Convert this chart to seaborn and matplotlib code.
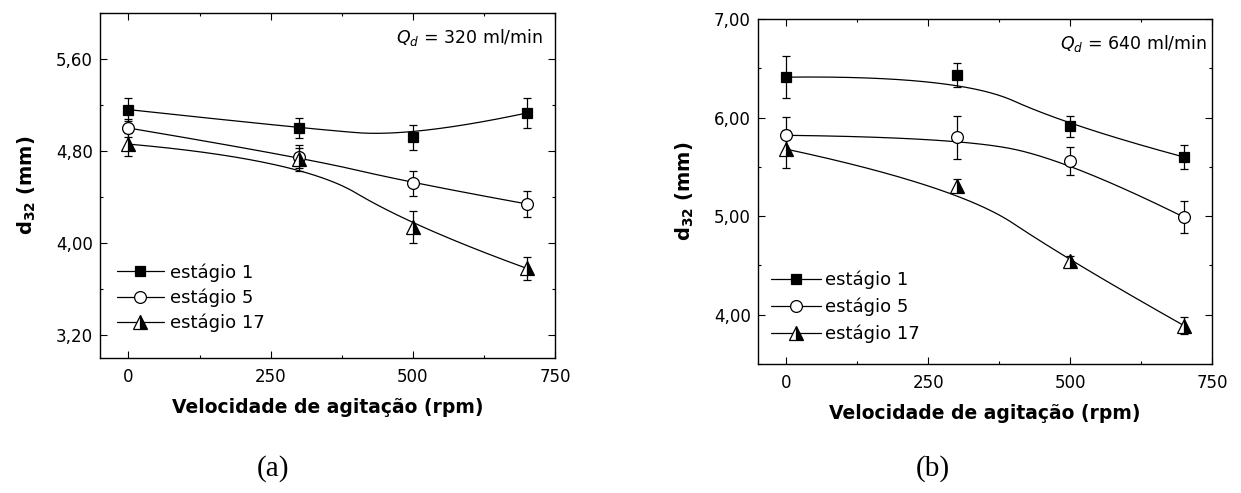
import numpy as np
import matplotlib
matplotlib.use("Agg")
import matplotlib.pyplot as plt
import seaborn as sns
from matplotlib.ticker import MultipleLocator, FuncFormatter
from matplotlib.lines import Line2D

# ---------------- data ----------------
velocidade = [0, 300, 500, 700]
series_labels = ["estágio 1", "estágio 5", "estágio 17"]

# (a) Qd = 320 ml/min
a_e1 = [5.16, 5.00, 4.92, 5.13]
a_e1_err = [0.10, 0.09, 0.11, 0.13]
a_e5 = [5.00, 4.75, 4.52, 4.34]
a_e5_err = [0.08, 0.10, 0.11, 0.11]
a_e17 = [4.86, 4.73, 4.14, 3.78]
a_e17_err = [0.10, 0.10, 0.14, 0.10]

# (b) Qd = 640 ml/min
b_e1 = [6.41, 6.43, 5.91, 5.60]
b_e1_err = [0.21, 0.12, 0.11, 0.12]
b_e5 = [5.82, 5.80, 5.56, 4.99]
b_e5_err = [0.19, 0.22, 0.14, 0.16]
b_e17 = [5.68, 5.31, 4.54, 3.89]
b_e17_err = [0.19, 0.07, 0.06, 0.09]

xticks = [0, 250, 500, 750]
a_yticks = [3.20, 4.00, 4.80, 5.60]
b_yticks = [4.00, 5.00, 6.00, 7.00]
panel_tags = ["(a)", "(b)"]
qd_texts = [r"$Q_d$ = 320 ml/min", r"$Q_d$ = 640 ml/min"]

# ---------------- style ----------------
sns.set_theme(style="ticks")
plt.rcParams["font.family"] = ["DejaVu Sans"]
plt.rcParams["mathtext.fontset"] = "dejavusans"
plt.rcParams["text.color"] = "black"
plt.rcParams["axes.labelcolor"] = "black"
plt.rcParams["xtick.color"] = "black"
plt.rcParams["ytick.color"] = "black"
plt.rcParams["axes.edgecolor"] = "black"


def bspline_curve(xs, ys, degree=2, n=300):
    """Clamped B-spline using the data points as control points (connection style)."""
    P = np.column_stack([xs, ys]).astype(float)
    m = len(P)
    k = min(degree, m - 1)
    inner = np.linspace(0, 1, m - k + 1)[1:-1]
    knots = np.concatenate([np.zeros(k + 1), inner, np.ones(k + 1)])
    u = np.linspace(0, 1, n)
    u[-1] -= 1e-9
    N = np.zeros((n, len(knots) - 1))
    for i in range(len(knots) - 1):
        N[:, i] = ((u >= knots[i]) & (u < knots[i + 1])).astype(float)
    for d in range(1, k + 1):
        Nn = np.zeros((n, len(knots) - 1 - d))
        for i in range(len(knots) - 1 - d):
            den1 = knots[i + d] - knots[i]
            den2 = knots[i + d + 1] - knots[i + 1]
            left = (u - knots[i]) / den1 * N[:, i] if den1 > 0 else 0.0
            right = (knots[i + d + 1] - u) / den2 * N[:, i + 1] if den2 > 0 else 0.0
            Nn[:, i] = left + right
        N = Nn
    C = N @ P
    return C[:, 0], C[:, 1]


marker_styles = [
    dict(marker="s", markersize=7.5, markerfacecolor="black", markeredgecolor="black"),
    dict(marker="o", markersize=8.5, markerfacecolor="white", markeredgecolor="black"),
    dict(marker="^", markersize=9.5, fillstyle="right", markerfacecolor="black",
         markerfacecoloralt="white", markeredgecolor="black"),
]

W, H = 1241, 493
fig = plt.figure(figsize=(W / 100, H / 100), dpi=100)
ax_a = fig.add_axes([100 / W, 1 - 358 / H, 455 / W, 345 / H])
ax_b = fig.add_axes([757.7 / W, 1 - 364 / H, 454.6 / W, 345 / H])

comma_fmt = FuncFormatter(lambda v, p: f"{v:.2f}".replace(".", ","))

panels = [
    (ax_a, [(a_e1, a_e1_err), (a_e5, a_e5_err), (a_e17, a_e17_err)], (3.0, 6.0), a_yticks, 0.4,
     dict(anchor=(0.037, 0.275), hl=2.6, htp=0.33, ls=0.38), (543 - 100) / 455),
    (ax_b, [(b_e1, b_e1_err), (b_e5, b_e5_err), (b_e17, b_e17_err)], (3.5, 7.0), b_yticks, 0.5,
     dict(anchor=(0.029, 0.270), hl=2.78, htp=0.22, ls=0.47), (1207 - 757.7) / 454.6),
]

for idx, (ax, data, ylim, yticks, yminor, leg, qd_x) in enumerate(panels):
    for (vals, errs), ms in zip(data, marker_styles):
        cx, cy = bspline_curve(velocidade, vals)
        sns.lineplot(x=cx, y=cy, ax=ax, color="black", lw=0.9, sort=False,
                     estimator=None, legend=False, zorder=2)
        ax.errorbar(velocidade, vals, yerr=errs, fmt="none", ecolor="black",
                    elinewidth=0.9, capsize=3.2, capthick=0.9, zorder=3)
        ax.plot(velocidade, vals, ls="none", markeredgewidth=0.9, zorder=4, **ms)

    ax.set_xlim(-50, 750)
    ax.set_ylim(*ylim)
    ax.set_xticks(xticks)
    ax.set_yticks(yticks)
    ax.xaxis.set_minor_locator(MultipleLocator(125))
    ax.yaxis.set_minor_locator(MultipleLocator(yminor))
    ax.yaxis.set_major_formatter(comma_fmt)
    ax.tick_params(which="both", direction="in", top=True, right=True,
                   width=0.8, colors="black", labelcolor="black", labelsize=12)
    ax.tick_params(which="major", length=5)
    ax.tick_params(which="minor", length=2.5)
    ax.tick_params(axis="x", pad=7.5)
    ax.tick_params(axis="y", pad=5)
    for sp in ax.spines.values():
        sp.set_visible(True)
        sp.set_linewidth(1.0)
        sp.set_color("black")

    ax.set_xlabel("Velocidade de agitação (rpm)", fontsize=13.5, fontweight="bold",
                  labelpad=8, color="black")
    ax.set_ylabel(r"$\mathbf{d_{32}}$ (mm)", fontsize=14, fontweight="bold",
                  labelpad=13, color="black")

    ax.text(qd_x, 1 - 30 / 345, qd_texts[idx], transform=ax.transAxes,
            ha="right", va="baseline", fontsize=12.5, color="black")

    handles = [Line2D([], [], color="black", lw=0.9, markeredgewidth=0.9, **ms)
               for ms in marker_styles]
    lg = ax.legend(handles, series_labels, loc="upper left", bbox_to_anchor=leg["anchor"],
                   frameon=False, fontsize=13, handlelength=leg["hl"],
                   handletextpad=leg["htp"], labelspacing=leg["ls"], borderpad=0,
                   borderaxespad=0, numpoints=1, labelcolor="black")

fig.text(273 / W, 1 - 469 / H, panel_tags[0], ha="center", va="center",
         family="Liberation Serif", fontsize=21, color="black")
fig.text(933 / W, 1 - 469 / H, panel_tags[1], ha="center", va="center",
         family="Liberation Serif", fontsize=21, color="black")

fig.savefig("out.png", dpi=100, facecolor="white")
